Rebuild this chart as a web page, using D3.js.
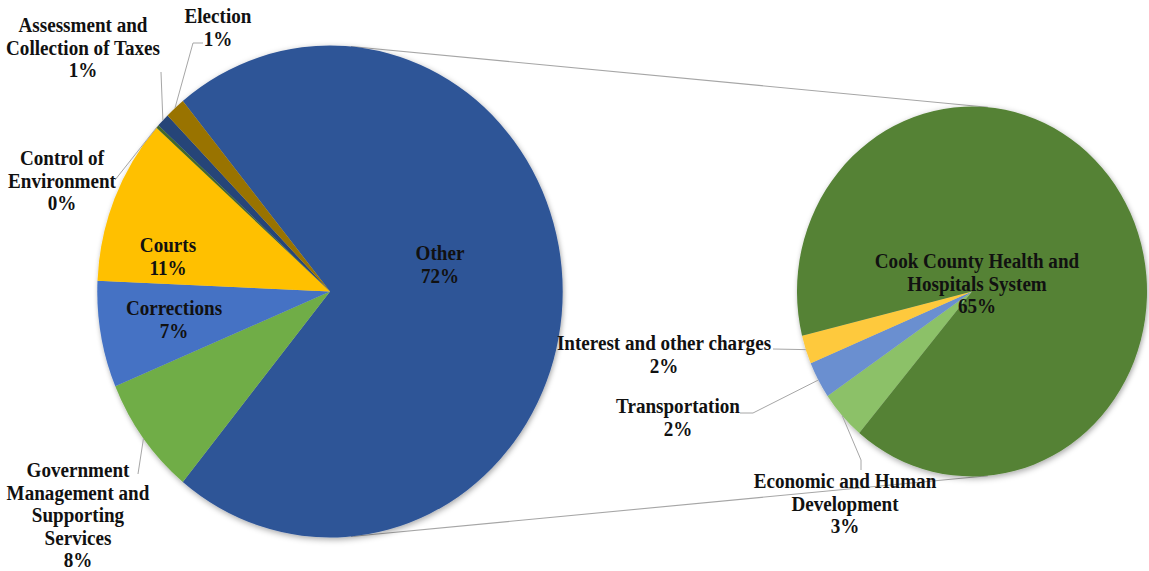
<!DOCTYPE html>
<html><head><meta charset="utf-8">
<script src="https://cdn.jsdelivr.net/npm/d3@7"></script>
<style>html,body{margin:0;padding:0;background:#fff;} svg{display:block}</style>
</head><body><svg id="chart" width="1149" height="571"></svg>
<script>
// ---------- DATA ----------
const primaryNames = ["Other", "Government Management and Supporting Services", "Corrections", "Courts",
  "Control of Environment", "Assessment and Collection of Taxes", "Election"];
const primaryValues = [71.8, 7.8, 7.0, 10.9, 0.2, 0.9, 1.4];
const secondaryNames = ["Economic and Human Development", "Transportation", "Interest and other charges",
  "Cook County Health and Hospitals System"];
const secondaryValues = [3.1, 2.3, 1.8, 64.6];

// ---------- STYLE / LAYOUT ----------
const primaryColors = ["#2f5597", "#70ad47", "#4472c4", "#ffc000", "#43682b", "#264478", "#997300"];
const secondaryColors = ["#8cc168", "#6a8fd0", "#fec93c", "#548235"];
const sx = 0.946;                       // horizontal squash of the original picture
const px = x => x / sx;                 // display x -> drawing x
const P = {cx: px(330), cy: 291.5, r: 246};
const S = {cx: px(972), cy: 291.5, r: 185};
const secondaryStartDeg = 220.1;
const fontSize = 20.2, lineH = 22.6;

const labelLayout = {
  "Other": {lines: ["Other"], x: 440, y: 260},
  "Government Management and Supporting Services": {lines: ["Government", "Management and", "Supporting", "Services"], x: 78, y: 477, leader: [[138, 474]]},
  "Corrections": {lines: ["Corrections"], x: 174, y: 315},
  "Courts": {lines: ["Courts"], x: 168, y: 252},
  "Control of Environment": {lines: ["Control of", "Environment"], x: 62, y: 165, leader: [[115, 180]]},
  "Assessment and Collection of Taxes": {lines: ["Assessment and", "Collection of Taxes"], x: 83, y: 32, leader: [[161, 72]]},
  "Election": {lines: ["Election"], x: 218, y: 23, leader: [[193, 43], [203, 43]]},
  "Economic and Human Development": {lines: ["Economic and Human", "Development"], x: 845, y: 488, leader: [[861, 460], [861, 470]]},
  "Transportation": {lines: ["Transportation"], x: 678, y: 413, leader: [[753, 413], [740, 413]]},
  "Interest and other charges": {lines: ["Interest and other charges"], x: 664, y: 350, leader: [[773, 349]]},
  "Cook County Health and Hospitals System": {lines: ["Cook County Health and", "Hospitals System"], x: 977, y: 268}
};

const svg = d3.select("#chart");
const defs = svg.append("defs");
const f = defs.append("filter").attr("id", "sh").attr("x", "-10%").attr("y", "-10%").attr("width", "120%").attr("height", "120%");
f.append("feDropShadow").attr("dx", 1).attr("dy", 2).attr("stdDeviation", 3)
  .attr("flood-color", "#000").attr("flood-opacity", 0.35);

const root = svg.append("g").attr("transform", `scale(${sx},1)`);
const total = d3.sum(primaryValues);
const rad = d => d * Math.PI / 180;

// primary pie: "Other" slice centred on the right
const otherFrac = primaryValues[0] / total;
const pieP = d3.pie().sort(null).value(d => d.v)
  .startAngle(Math.PI / 2 - otherFrac * Math.PI).endAngle(Math.PI / 2 - otherFrac * Math.PI + 2 * Math.PI);
const arcsP = pieP(primaryNames.map((n, i) => ({n, v: primaryValues[i], c: primaryColors[i]})));
const subTotal = d3.sum(secondaryValues);
const pieS = d3.pie().sort(null).value(d => d.v)
  .startAngle(rad(secondaryStartDeg)).endAngle(rad(secondaryStartDeg) + 2 * Math.PI);
const arcsS = pieS(secondaryNames.map((n, i) => ({n, v: secondaryValues[i], c: secondaryColors[i]})));

// connector lines (external tangents of both pies)
const d = S.cx - P.cx;
const nx = (P.r - S.r) / d, ny = Math.sqrt(1 - nx * nx);
[-1, 1].forEach(s => {
  root.append("line")
    .attr("x1", P.cx + P.r * nx).attr("y1", P.cy + s * P.r * ny)
    .attr("x2", S.cx + S.r * nx).attr("y2", S.cy + s * S.r * ny)
    .attr("stroke", "#a6a6a6").attr("stroke-width", 1.1).attr("vector-effect", "non-scaling-stroke");
});

function drawPie(arcs, C) {
  const arc = d3.arc().innerRadius(0).outerRadius(C.r);
  const g = root.append("g").attr("transform", `translate(${C.cx},${C.cy})`).attr("filter", "url(#sh)");
  g.selectAll("path").data(arcs).join("path").attr("d", arc).attr("fill", d => d.data.c);
}
drawPie(arcsP, P);
drawPie(arcsS, S);

// labels
const fmt = v => Math.round(v) + "%";
function drawLabels(arcs, C, tot) {
  arcs.forEach(a => {
    const L = labelLayout[a.data.n];
    if (L.leader) {
      const mid = (a.startAngle + a.endAngle) / 2;
      const pts = [[C.cx + C.r * Math.sin(mid), C.cy - C.r * Math.cos(mid)]]
        .concat(L.leader.map(p => [px(p[0]), p[1]]));
      root.append("path").attr("d", d3.line()(pts)).attr("fill", "none")
        .attr("stroke", "#a6a6a6").attr("stroke-width", 1).attr("vector-effect", "non-scaling-stroke");
    }
    const lines = L.lines.concat([fmt(a.data.v / tot * 100)]);
    const t = root.append("text").attr("text-anchor", "middle")
      .attr("font-family", "'Liberation Serif','Times New Roman',serif").attr("font-weight", "bold")
      .attr("font-size", fontSize).attr("fill", "#111");
    lines.forEach((ln, i) => t.append("tspan").attr("x", px(L.x)).attr("y", L.y + i * lineH).text(ln));
  });
}
drawLabels(arcsP, P, total);
drawLabels(arcsS, S, total);
</script></body></html>
